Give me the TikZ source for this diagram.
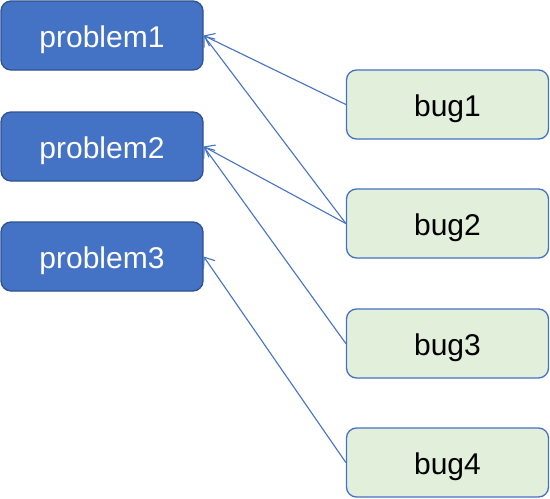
\documentclass[tikz,border=0pt]{standalone}
\usepackage{fontspec}
\setmainfont{Liberation Sans}
\usetikzlibrary{arrows.meta}
\definecolor{pblue}{HTML}{4472C4}
\definecolor{pborder}{HTML}{2F528F}
\definecolor{bgreen}{HTML}{E2EFDA}
\tikzset{
  boxbase/.style={line width=1.3pt, rounded corners=10pt,
    minimum width=202pt, minimum height=69pt, font=\fontsize{30}{34}\selectfont,
    inner sep=0pt, text height=24pt, text depth=1pt},
  probbox/.style={boxbase, draw=pborder, fill=pblue, text=white},
  bugbox/.style={boxbase, draw=pblue, fill=bgreen, text=black},
  link/.style={draw=pblue, line width=1.1pt, -{Straight Barb[length=9pt,width=14pt,line width=1.1pt]}}
}
\begin{document}
\begin{tikzpicture}[x=1pt,y=-1pt]
\useasboundingbox (0,0) rectangle (550,499);
\node[probbox] (p1) at (102,35.5) {problem1};
\node[probbox] (p2) at (102,146.5) {problem2};
\node[probbox] (p3) at (102,256.5) {problem3};
\node[bugbox] (b1) at (447.5,104.5) {bug1};
\node[bugbox] (b2) at (447.5,223.5) {bug2};
\node[bugbox] (b3) at (447.5,343.5) {bug3};
\node[bugbox] (b4) at (447.5,462.5) {bug4};
\draw[link] (b1.west) -- (p1.east);
\draw[link] (b2.west) -- (p1.east);
\draw[link] (b2.west) -- (p2.east);
\draw[link] (b3.west) -- (p2.east);
\draw[link] (b4.west) -- (p3.east);
\end{tikzpicture}
\end{document}
